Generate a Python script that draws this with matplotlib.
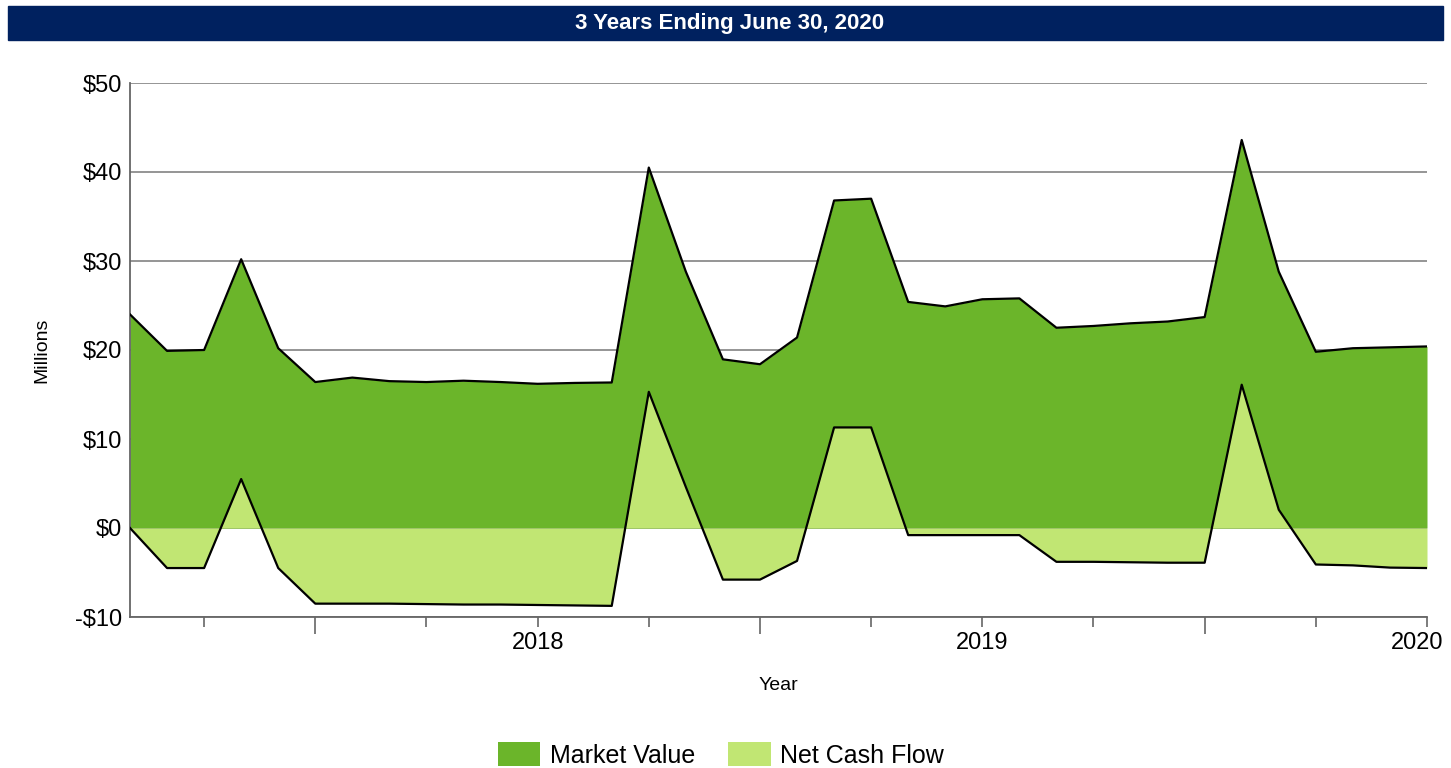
import numpy as np
import matplotlib.pyplot as plt
import matplotlib.transforms as mtransforms
from matplotlib.patches import Patch, Rectangle

# monthly points, index 0..35
market_value = [24.0, 19.9, 20.0, 30.2, 20.2, 16.4, 16.9, 16.5, 16.4, 16.55,
                16.4, 16.2, 16.3, 16.35, 40.5, 28.8, 18.95, 18.4, 21.4, 36.8,
                37.0, 25.4, 24.9, 25.7, 25.8, 22.5, 22.7, 23.0, 23.2, 23.7,
                43.6, 28.8, 19.8, 20.2, 20.3, 20.4]
net_cash_flow = [0.0, -4.5, -4.5, 5.5, -4.5, -8.5, -8.5, -8.5, -8.55, -8.6,
                 -8.6, -8.65, -8.7, -8.75, 15.3, 4.6, -5.8, -5.8, -3.7, 11.3,
                 11.3, -0.8, -0.8, -0.8, -0.8, -3.8, -3.8, -3.85, -3.9, -3.9,
                 16.1, 2.05, -4.1, -4.2, -4.45, -4.5]
year_ticks = [11, 23, 35]
year_labels = ['2018', '2019', '2020']
long_ticks = [5, 17, 29]
short_ticks = [2, 8, 14, 20, 26, 32]
y_ticks = [-10, 0, 10, 20, 30, 40, 50]

dark_green = '#6BB52A'
light_green = '#C1E673'
navy = '#00215F'

plt.rcParams['font.family'] = ['Liberation Sans', 'DejaVu Sans']

fig = plt.figure(figsize=(14.51, 7.68), dpi=100)
ax = fig.add_axes([130 / 1451, 1 - 617 / 768, 1297 / 1451, 534 / 768])

# barra de título
fig.patches.append(Rectangle((8 / 1451, 1 - 40 / 768), 1435 / 1451, 34 / 768,
                             transform=fig.transFigure, color=navy, zorder=0))
fig.text(730 / 1451, 1 - 23 / 768, '3 Years Ending June 30, 2020', color='white',
         fontsize=16, fontweight='bold', ha='center', va='center')

x = np.arange(len(market_value))
ax.fill_between(x, 0, market_value, color=dark_green, linewidth=0, zorder=2)
ax.fill_between(x, 0, net_cash_flow, color=light_green, linewidth=0, zorder=3)
ax.plot(x, market_value, color='black', linewidth=1.6, zorder=4)
ax.plot(x, net_cash_flow, color='black', linewidth=1.6, zorder=4)

ax.set_xlim(0, 35)
ax.set_ylim(-10, 50)
ax.set_yticks(y_ticks)
ax.set_yticklabels(['-$10' if v < 0 else f'${v}' for v in y_ticks], fontsize=17)
ax.tick_params(axis='y', length=0, pad=6)
ax.yaxis.grid(True, color='#8C8C8C', linewidth=1.3, zorder=1)
ax.set_axisbelow(True)

major = sorted(year_ticks + long_ticks)
ax.set_xticks(major)
ax.set_xticklabels([year_labels[year_ticks.index(t)] if t in year_ticks else ''
                    for t in major], fontsize=17)
ax.set_xticks(short_ticks, minor=True)
ax.tick_params(axis='x', which='both', length=7, width=1.2, color='#666666',
               pad=4)
for t in ax.xaxis.get_major_ticks():
    if t.get_loc() in long_ticks:
        t.tick1line.set_markersize(12)

# o rótulo 2020 fica um pouco para dentro, como no original
ultimo = ax.get_xticklabels()[-1]
ultimo.set_transform(ultimo.get_transform() +
                     mtransforms.ScaledTranslation(-10 / 100, 0, fig.dpi_scale_trans))

for lado in ['top', 'right']:
    ax.spines[lado].set_visible(False)
for lado in ['left', 'bottom']:
    ax.spines[lado].set_color('#666666')
    ax.spines[lado].set_linewidth(1.3)

ax.set_xlabel('Year', fontsize=14, labelpad=16)
fig.text(42 / 1451, 1 - 350 / 768, 'Millions', rotation=90, fontsize=14,
         ha='center', va='center')

handles = [Patch(facecolor=dark_green, label='Market Value'),
           Patch(facecolor=light_green, label='Net Cash Flow')]
fig.legend(handles=handles, loc='center', bbox_to_anchor=(721 / 1451, 1 - 755 / 768),
           ncol=2, frameon=False, fontsize=18, handlelength=1.7, handleheight=1.1,
           handletextpad=0.4, columnspacing=1.3)

fig.savefig('out.png', dpi=100)
